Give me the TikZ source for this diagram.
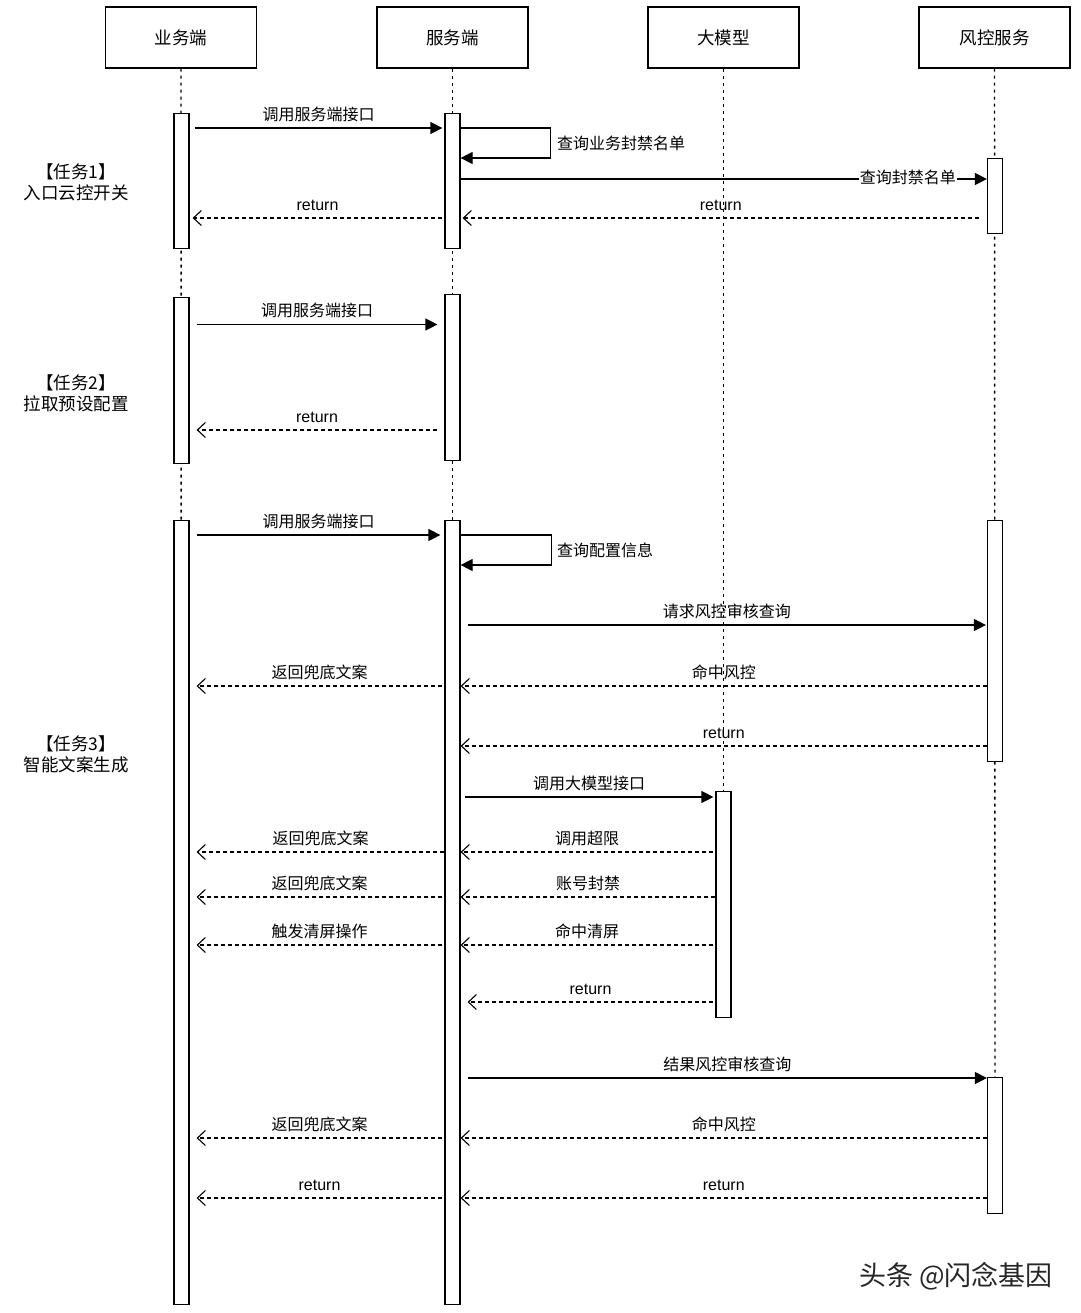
\documentclass[tikz,border=0pt]{standalone}
\usepackage{fontspec}
\setmainfont{Noto Sans CJK SC}
\newfontfamily\latfont{Liberation Sans}
\usetikzlibrary{arrows.meta,calc,backgrounds}
\tikzset{
  hdr/.style={draw, line width=1.2pt, minimum width=151pt, minimum height=61pt, inner sep=0pt, font=\fontsize{17.5}{20}\selectfont},
  act/.style={draw, fill=white, line width=1.2pt, minimum width=15pt, inner sep=0pt, anchor=north},
  life/.style={line width=1.4pt, dash pattern=on 3pt off 4pt},
  sync/.style={line width=1.2pt, -{Triangle[length=12pt,width=12pt]}},
  ret/.style={line width=1.1pt, dash pattern=on 4pt off 3pt, -{Straight Barb[length=8pt,width=15pt,line width=1.1pt]}},
  lbl/.style={font=\fontsize{16}{18}\selectfont, inner sep=2pt, text height=13pt, text depth=3pt},
  rlbl/.style={lbl, font=\latfont\fontsize{16}{18}\selectfont},
  task/.style={align=center, font=\fontsize{17.5}{21}\selectfont},
}
\begin{document}
\begin{tikzpicture}[x=1pt,y=-1pt]
\useasboundingbox (0,0) rectangle (1080,1313);

% headers
\node[hdr] (H1) at (181,37.5) {业务端};
\node[hdr] (H2) at (452.5,37.5) {服务端};
\node[hdr] (H3) at (723.5,37.5) {大模型};
\node[hdr] (H4) at (994.5,37.5) {风控服务};

% activations
\node[act, minimum height=135pt] (A1) at (181.5,113) {};
\node[act, minimum height=166pt] (A2) at (181.5,297) {};
\node[act, minimum height=784pt] (A3) at (181.5,520) {};
\node[act, minimum height=135pt] (S1) at (452.5,113) {};
\node[act, minimum height=166pt] (S2) at (452.5,294) {};
\node[act, minimum height=784pt] (S3) at (452.5,520) {};
\node[act, minimum height=226pt] (L1) at (723.5,791) {};
\node[act, minimum height=75pt] (R1) at (995,158) {};
\node[act, minimum height=241pt] (R2) at (995,520) {};
\node[act, minimum height=136pt] (R3) at (995,1077) {};

% background and lifelines
\begin{scope}[on background layer]
\fill[white] (0,0) rectangle (1080,1313);
\draw[life] (H1.south) -- (A3.south);
\draw[life] (H2.south) -- (S3.south);
\draw[life] (H3.south) -- (L1.north);
\draw[life] (H4.south) -- (R3.north);
\end{scope}

% task labels
\node[task] (T1) at (76,182.5) {【任务1】\\入口云控开关};
\node[task] (T2) at (76,393) {【任务2】\\拉取预设配置};
\node[task] (T3) at (76,754.5) {【任务3】\\智能文案生成};

% ---- task 1
\draw[sync] ($(A1.east|-0,128)+(5,0)$) -- ($(S1.west|-0,128)+(-2,0)$) node[lbl,midway,above=2pt]{调用服务端接口};
\draw[sync] (S1.east|-0,128) -- ++(90,0) -- ++(0,30) -- (S1.east|-0,158);
\node[lbl, anchor=west] (q1) at (555,145) {查询业务封禁名单};
\draw[sync] (S1.east|-0,179) -- (R1.west|-0,179) node[lbl,pos=0.85,fill=white,inner sep=1pt]{查询封禁名单};
\draw[ret] ($(R1.west|-0,218)+(-8,0)$) -- ($(S1.east|-0,218)+(2,0)$) node[rlbl,midway,above=2pt]{return};
\draw[ret] ($(S1.west|-0,218)+(-2,0)$) -- ($(A1.east|-0,218)+(3,0)$) node[rlbl,midway,above=2pt]{return};

% ---- task 2
\draw[sync] ($(A2.east|-0,324.5)+(7,0)$) -- ($(S2.west|-0,324.5)+(-7,0)$) node[lbl,midway,above=2pt]{调用服务端接口};
\draw[ret] ($(S2.west|-0,430)+(-7,0)$) -- ($(A2.east|-0,430)+(7,0)$) node[rlbl,midway,above=2pt]{return};

% ---- task 3
\draw[sync] ($(A3.east|-0,535)+(7,0)$) -- ($(S3.west|-0,535)+(-4,0)$) node[lbl,midway,above=2pt]{调用服务端接口};
\draw[sync] (S3.east|-0,535) -- ++(91,0) -- ++(0,30) -- (S3.east|-0,565);
\node[lbl, anchor=west] (q2) at (555,551) {查询配置信息};
\draw[sync] ($(S3.east|-0,625)+(7,0)$) -- ($(R2.west|-0,625)+(-1,0)$) node[lbl,midway,above=2pt]{请求风控审核查询};
\draw[ret] (R2.west|-0,686) -- (S3.east|-0,686) node[lbl,midway,above=2pt]{命中风控};
\draw[ret] ($(S3.west|-0,686)+(-2,0)$) -- ($(A3.east|-0,686)+(7,0)$) node[lbl,midway,above=2pt]{返回兜底文案};
\draw[ret] (R2.west|-0,746) -- (S3.east|-0,746) node[rlbl,midway,above=2pt]{return};
\draw[sync] ($(S3.east|-0,797)+(4,0)$) -- ($(L1.west|-0,797)+(-2,0)$) node[lbl,midway,above=2pt]{调用大模型接口};
\draw[ret] ($(L1.west|-0,852)+(-2,0)$) -- (S3.east|-0,852) node[lbl,midway,above=2pt]{调用超限};
\draw[ret] (S3.west|-0,852) -- ($(A3.east|-0,852)+(7,0)$) node[lbl,midway,above=2pt]{返回兜底文案};
\draw[ret] (L1.west|-0,897) -- (S3.east|-0,897) node[lbl,midway,above=2pt]{账号封禁};
\draw[ret] ($(S3.west|-0,897)+(-2,0)$) -- ($(A3.east|-0,897)+(7,0)$) node[lbl,midway,above=2pt]{返回兜底文案};
\draw[ret] ($(L1.west|-0,945)+(-2,0)$) -- (S3.east|-0,945) node[lbl,midway,above=2pt]{命中清屏};
\draw[ret] ($(S3.west|-0,945)+(-2,0)$) -- ($(A3.east|-0,945)+(7,0)$) node[lbl,midway,above=2pt]{触发清屏操作};
\draw[ret] ($(L1.west|-0,1002)+(-2,0)$) -- ($(S3.east|-0,1002)+(7,0)$) node[rlbl,midway,above=2pt]{return};
\draw[sync] ($(S3.east|-0,1078)+(7,0)$) -- (R3.west|-0,1078) node[lbl,midway,above=2pt]{结果风控审核查询};
\draw[ret] (R3.west|-0,1138) -- (S3.east|-0,1138) node[lbl,midway,above=2pt]{命中风控};
\draw[ret] ($(S3.west|-0,1138)+(-2,0)$) -- ($(A3.east|-0,1138)+(7,0)$) node[lbl,midway,above=2pt]{返回兜底文案};
\draw[ret] (R3.west|-0,1198) -- (S3.east|-0,1198) node[rlbl,midway,above=2pt]{return};
\draw[ret] ($(S3.west|-0,1198)+(-2,0)$) -- ($(A3.east|-0,1198)+(7,0)$) node[rlbl,midway,above=2pt]{return};

% watermark
\node[font=\fontsize{27}{29}\selectfont, text=black!85] (wm) at (956,1276) {头条 @闪念基因};
\end{tikzpicture}
\end{document}
